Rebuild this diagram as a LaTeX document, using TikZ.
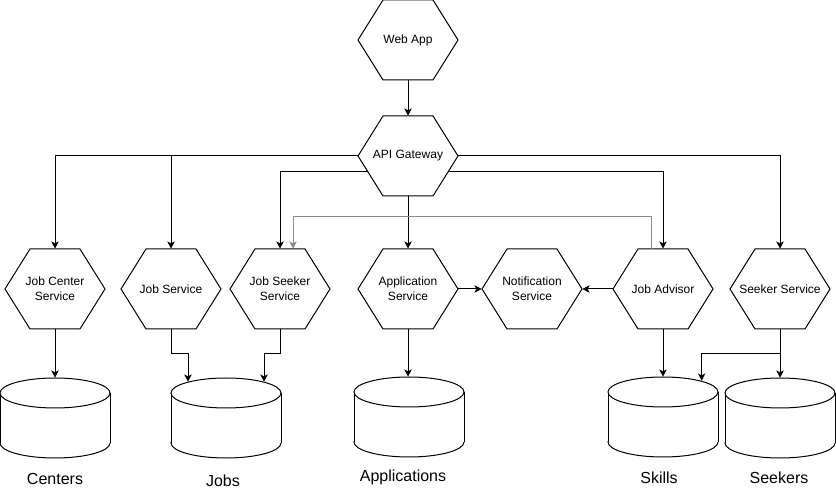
\documentclass[tikz,border=0pt]{standalone}
\usepackage{fontspec}
\setmainfont{Liberation Sans}
\usepackage{tikz}
\usetikzlibrary{calc,arrows.meta}
% hexagon service box: name, x, y, text
\newcommand{\hexbox}[4]{
  \draw[hexline] (#2-50,#3) -- (#2-25,#3-40) -- (#2+25,#3-40) -- (#2+50,#3)
    -- (#2+25,#3+40) -- (#2-25,#3+40) -- cycle;
  \coordinate (#1-sw) at (#2-25,#3+40);
  \coordinate (#1-se) at (#2+25,#3+40);
  \node[svc] (#1) at (#2,#3) {#4};
}
% database cylinder: name, x, y
\newcommand{\dbcyl}[3]{
  \filldraw[dbline] (#2,#3+25) ellipse [x radius=55, y radius=15];
  \fill[white] (#2-55,#3-25) rectangle (#2+55,#3+25);
  \draw[dbline] (#2-55,#3-25) -- (#2-55,#3+25) (#2+55,#3-25) -- (#2+55,#3+25);
  \filldraw[dbline] (#2,#3-25) ellipse [x radius=55, y radius=15];
  \node[dbbox] (#1) at (#2,#3) {};
}

\begin{document}
\begin{tikzpicture}[x=0.75pt, y=-0.75pt,
    hexline/.style={line width=0.75pt, fill=white},
    svc/.style={rectangle, minimum width=75pt, minimum height=60pt, inner sep=0pt,
      align=center, font=\fontsize{9}{11}\selectfont},
    dbline/.style={line width=0.75pt, fill=white},
    dbbox/.style={rectangle, minimum width=82.5pt, minimum height=60pt, inner sep=0pt},
    dblabel/.style={font=\fontsize{12}{14}\selectfont},
    arr/.style={line width=0.75pt, -{Stealth[length=5.5pt,width=5.5pt,inset=1.5pt]}},
    greyarr/.style={arr, draw=black!45}]
    \useasboundingbox (0,0) rectangle (836,491);
      % services
      \hexbox{web}{408}{40}{Web App}
      \hexbox{gw}{408}{156}{API Gateway}
      \hexbox{jcs}{55}{289}{Job Center\\Service}
      \hexbox{jsv}{171}{289}{Job Service}
      \hexbox{jss}{280}{289}{Job Seeker\\Service}
      \hexbox{aps}{408}{289}{Application\\Service}
      \hexbox{nts}{532}{289}{Notification\\Service}
      \hexbox{jad}{663}{289}{Job Advisor}
      \hexbox{sks}{780}{289}{Seeker Service}

      % databases
      \dbcyl{cen}{55}{418}
      \dbcyl{job}{226}{418}
      \dbcyl{apl}{409}{417}
      \dbcyl{skl}{663}{417}
      \dbcyl{sek}{780}{418}
      \node[dblabel] (lcen) at (55,479) {Centers};
      \node[dblabel] (ljob) at (223,481) {Jobs};
      \node[dblabel] (lapl) at (403,477) {Applications};
      \node[dblabel] (lskl) at (659,478) {Skills};
      \node[dblabel] (lsek) at (779,478) {Seekers};

      % gateway links
      \draw[arr] (web.south) -- (gw.north);
      \draw[arr] (gw.west) -| (jcs.north);
      \draw[arr] (gw.west) -| (jsv.north);
      \draw[arr] ($(gw.west)!0.4!(gw-sw)$) -| (jss.north);
      \draw[arr] (gw.south) -- (aps.north);
      \draw[arr] ($(gw.east)!0.4!(gw-se)$) -| (jad.north);
      \draw[arr] (gw.east) -| (sks.north);
      \draw[greyarr] ([xshift=-9pt]jad.north) -- ++(0,-32) -| ([xshift=9.75pt]jss.north);

      % notifications
      \draw[arr] (aps.east) -- (nts.west);
      \draw[arr] (jad.west) -- (nts.east);

      % storage
      \draw[arr] (jcs.south) -- (cen.north);
      \draw[arr] (jsv.south) -- ++(0,24) -| ([xshift=-28.5pt,yshift=-3pt]job.north);
      \draw[arr] (jss.south) -- ++(0,24) -| ([xshift=28.5pt,yshift=-3pt]job.north);
      \draw[arr] (aps.south) -- (aps.south |- apl.north);
      \draw[arr] (jad.south) -- (skl.north);
      \draw[arr] (sks.south) -- (sks.south |- sek.north);
      \draw[arr] (sks.south) -- ++(0,24) -| ([xshift=29pt,yshift=-3pt]skl.north);
\end{tikzpicture}
\end{document}
